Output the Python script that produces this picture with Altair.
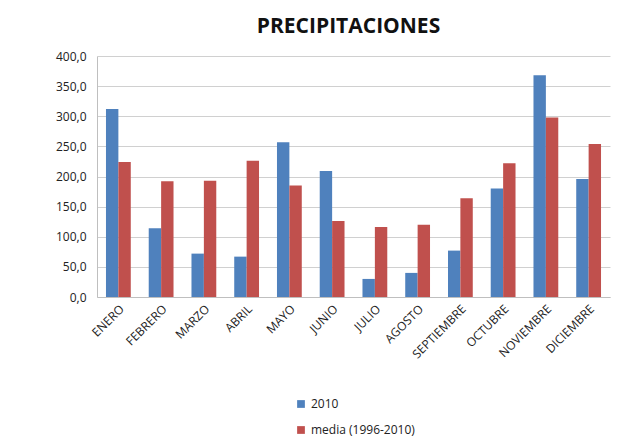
import altair as alt
import pandas as pd

months = ["ENERO", "FEBRERO", "MARZO", "ABRIL", "MAYO", "JUNIO", "JULIO",
          "AGOSTO", "SEPTIEMBRE", "OCTUBRE", "NOVIEMBRE", "DICIEMBRE"]
series_names = ["2010", "media (1996-2010)"]
values_2010 = [312, 114, 72, 67, 257, 209, 30, 40, 77, 180, 368, 196]
values_media = [224, 192, 193, 226, 185, 126, 116, 120, 164, 222, 298, 254]
colors = ["#4F81BD", "#C0504D"]
font = "Open Sans"

rows = []
for m, a, b in zip(months, values_2010, values_media):
    rows.append({"mes": m, "serie": series_names[0], "valor": a})
    rows.append({"mes": m, "serie": series_names[1], "valor": b})
df = pd.DataFrame(rows)

chart = alt.Chart(df).mark_bar().encode(
    x=alt.X("mes:N", sort=months, title=None,
            scale=alt.Scale(paddingInner=0.42, paddingOuter=0.21),
            axis=alt.Axis(labelAngle=-45, labelAlign="right", labelBaseline="top",
                          ticks=False, domainColor="#BFBFBF", labelFont=font,
                          labelFontSize=12, labelColor="#222222", labelPadding=6)),
    xOffset=alt.XOffset("serie:N", sort=series_names),
    y=alt.Y("valor:Q", title=None,
            scale=alt.Scale(domain=[0, 400], nice=False),
            axis=alt.Axis(values=[0, 50, 100, 150, 200, 250, 300, 350, 400],
                          labelExpr="replace(format(datum.value, '.1f'), '.', ',')",
                          ticks=False, domainColor="#BFBFBF", gridColor="#D0D0D0",
                          labelFont=font, labelFontSize=12, labelColor="#222222",
                          labelPadding=11)),
    color=alt.Color("serie:N", sort=series_names,
                    scale=alt.Scale(domain=series_names, range=colors),
                    legend=alt.Legend(title=None, orient="none", legendX=198, legendY=342,
                                      direction="vertical", symbolType="square",
                                      symbolSize=60, symbolStrokeWidth=0,
                                      labelFont=font, labelFontSize=12,
                                      labelColor="#222222", rowPadding=14)),
).properties(
    width=513, height=241,
    title=alt.Title("PRECIPITACIONES", font=font, fontSize=21, fontWeight="bold",
                    color="#111111", anchor="middle", offset=13, dx=-5),
    autosize=alt.AutoSizeParams(type="none"),
    padding={"left": 89, "top": 48, "right": 12, "bottom": 140},
).configure_view(stroke=None)

chart.save("out.html", embed_options={"renderer": "svg", "actions": False})
